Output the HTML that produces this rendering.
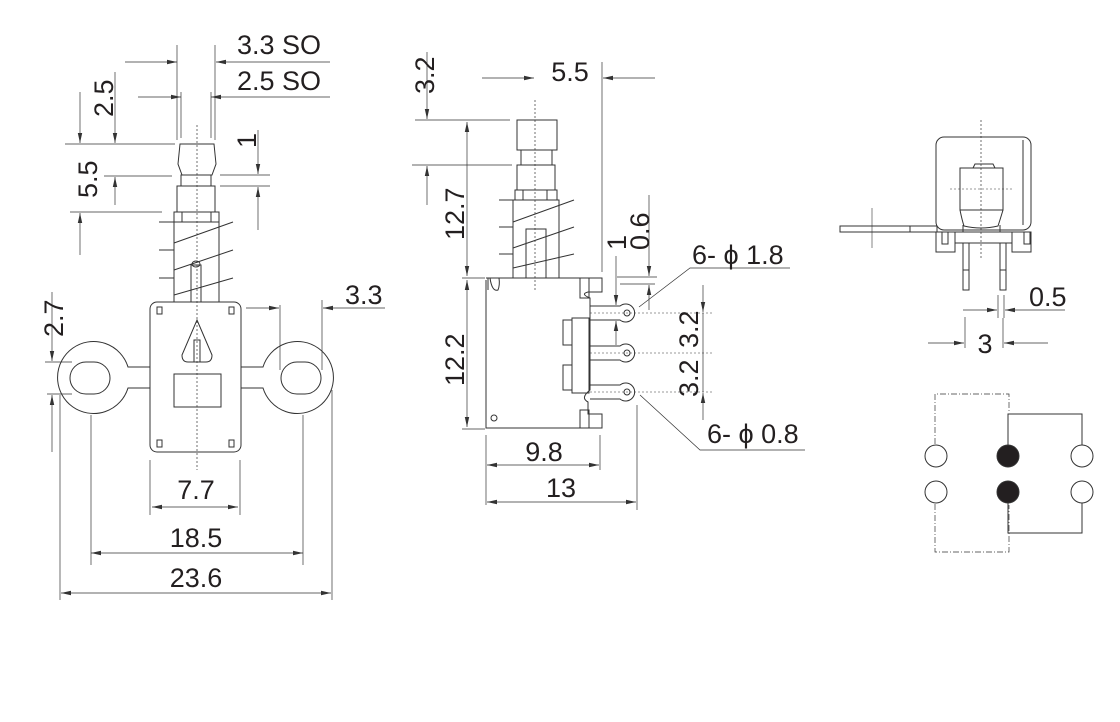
<!DOCTYPE html>
<html><head><meta charset="utf-8"><style>
html,body{margin:0;padding:0;background:#fff;}
svg{display:block}
text{font-family:"Liberation Sans",Arial,sans-serif;font-size:27px;fill:#231f20}
</style></head><body>
<svg width="1120" height="722" viewBox="0 0 1120 722" xmlns="http://www.w3.org/2000/svg">
<defs>
<marker id="a" viewBox="0 0 10 6" refX="10" refY="3" markerWidth="10" markerHeight="6" markerUnits="userSpaceOnUse" orient="auto-start-reverse"><path d="M0,0.8 L10,3 L0,5.2z" fill="#333"/></marker>
</defs>
<g stroke="#333" stroke-width="1" fill="none">
<!-- LEFT VIEW -->
<line x1="197" y1="125" x2="197" y2="470" stroke-dasharray="2,2" stroke-width="0.7"/>
<path d="M180,144 L214,144 L216,164 L212,175 L182,175 L178,164 Z"/>
<rect x="181" y="175" width="30" height="11"/>
<rect x="177" y="186" width="38" height="26"/>
<rect x="174" y="212" width="45" height="90"/>
<line x1="182" y1="212" x2="182" y2="222"/><line x1="211" y1="212" x2="211" y2="222"/><line x1="174" y1="222" x2="219" y2="222"/>
<path d="M159,222 L174,222 M174,243 L233,222 M159,250 L174,250 M174,270 L233,250 M159,278 L174,278 M174,295 L233,278"/>
<rect x="191" y="265" width="10" height="37"/><ellipse cx="196" cy="264" rx="4" ry="3"/>
<rect x="150" y="302" width="91" height="150" rx="7"/>
<path d="M157,307 h5 v7 h-5z M229,307 h5 v7 h-5z M157,440 h5 v7 h-5z M229,440 h5 v7 h-5z"/>
<path d="M197,320 L212,355 Q212,362 206,362 L188,362 Q182,362 182,355 Z"/>
<rect x="194" y="340" width="6" height="22"/>
<rect x="174" y="374" width="47" height="33"/>
<path d="M150,367 L128,367 A36,36 0 1 0 128,388 L150,388"/>
<rect x="70" y="362" width="40" height="32" rx="16"/>
<path d="M241,367 L263,367 A36,36 0 1 1 263,388 L241,388"/>
<rect x="281" y="362" width="40" height="32" rx="16"/>
<!-- dims left -->
<line x1="177" y1="45" x2="177" y2="140" stroke-width="0.7"/><line x1="215" y1="45" x2="215" y2="140" stroke-width="0.7"/>
<line x1="125" y1="62" x2="177" y2="62" marker-end="url(#a)" stroke-width="0.7"/>
<line x1="330" y1="62" x2="216" y2="62" marker-end="url(#a)" stroke-width="0.7"/>
<line x1="181" y1="92" x2="181" y2="138" stroke-width="0.7"/><line x1="211" y1="92" x2="211" y2="138" stroke-width="0.7"/>
<line x1="138" y1="97" x2="181" y2="97" marker-end="url(#a)" stroke-width="0.7"/>
<line x1="330" y1="97" x2="211" y2="97" marker-end="url(#a)" stroke-width="0.7"/>
<line x1="65" y1="144" x2="175" y2="144" stroke-width="0.7"/>
<line x1="80" y1="92" x2="80" y2="143" marker-end="url(#a)" stroke-width="0.7"/>
<line x1="115" y1="72" x2="115" y2="143" marker-end="url(#a)" stroke-width="0.7"/>
<line x1="104" y1="176" x2="172" y2="176" stroke-width="0.7"/>
<line x1="70" y1="212" x2="162" y2="212" stroke-width="0.7"/>
<line x1="115" y1="205" x2="115" y2="177" marker-end="url(#a)" stroke-width="0.7"/>
<line x1="80" y1="255" x2="80" y2="213" marker-end="url(#a)" stroke-width="0.7"/>
<line x1="220" y1="175" x2="270" y2="175" stroke-width="0.7"/><line x1="220" y1="186" x2="270" y2="186" stroke-width="0.7"/>
<line x1="258" y1="130" x2="258" y2="174" marker-end="url(#a)" stroke-width="0.7"/>
<line x1="258" y1="230" x2="258" y2="187" marker-end="url(#a)" stroke-width="0.7"/>
<line x1="52" y1="292" x2="52" y2="361" marker-end="url(#a)" stroke-width="0.7"/>
<line x1="45" y1="362" x2="72" y2="362" stroke-width="0.7"/><line x1="47" y1="394" x2="72" y2="394" stroke-width="0.7"/>
<line x1="52" y1="452" x2="52" y2="395" marker-end="url(#a)" stroke-width="0.7"/>
<line x1="280" y1="305" x2="280" y2="370" stroke-width="0.7"/><line x1="322" y1="300" x2="322" y2="370" stroke-width="0.7"/>
<line x1="246" y1="308" x2="279" y2="308" marker-end="url(#a)" stroke-width="0.7"/>
<line x1="385" y1="308" x2="323" y2="308" marker-end="url(#a)" stroke-width="0.7"/>
<line x1="150" y1="460" x2="150" y2="515" stroke-width="0.7"/><line x1="240" y1="460" x2="240" y2="515" stroke-width="0.7"/>
<line x1="152" y1="507" x2="238" y2="507" marker-start="url(#a)" marker-end="url(#a)" stroke-width="0.7"/>
<line x1="91" y1="415" x2="91" y2="565" stroke-width="0.7"/><line x1="303" y1="415" x2="303" y2="565" stroke-width="0.7"/>
<line x1="91" y1="553" x2="303" y2="553" marker-start="url(#a)" marker-end="url(#a)" stroke-width="0.7"/>
<line x1="60" y1="395" x2="60" y2="600" stroke-width="0.7"/><line x1="332" y1="390" x2="332" y2="600" stroke-width="0.7"/>
<line x1="61" y1="593" x2="331" y2="593" marker-start="url(#a)" marker-end="url(#a)" stroke-width="0.7"/>

<!-- MIDDLE VIEW -->
<line x1="535" y1="100" x2="535" y2="290" stroke-dasharray="2,2" stroke-width="0.7"/>
<rect x="517" y="120" width="40" height="30"/>
<rect x="521" y="150" width="31" height="15"/>
<rect x="517" y="165" width="38" height="25"/>
<rect x="515" y="190" width="42" height="10"/><line x1="523" y1="190" x2="523" y2="200"/><line x1="547" y1="190" x2="547" y2="200"/>
<rect x="513" y="200" width="46" height="78"/>
<rect x="526" y="229" width="20" height="49"/>
<path d="M499,200 L513,200 M513,222 L574,200 M499,227 L513,227 M513,248 L574,227 M499,254 L513,254 M513,268 L574,254"/>
<path d="M486,280 L486,428 L602,428 L602,414 L588,414 L588,402 Q580,398 590,390 L590,298 Q580,294 588,292 L588,292 L602,292 L602,278 L486,278"/>
<path d="M488,278 v12 M490,278 Q492,292 498,290 Q500,285 499,278"/>
<circle cx="494" cy="418" r="3"/>
<rect x="580" y="278" width="9" height="20"/><rect x="580" y="410" width="9" height="18"/>
<rect x="572" y="318" width="17" height="75"/>
<rect x="563" y="320" width="9" height="25"/><rect x="563" y="365" width="9" height="25"/>
<g>
<path d="M590,306 L620,306 A9,9 0 1 1 620,320 L590,320"/><circle cx="627" cy="313" r="3"/>
<path d="M590,346 L620,346 A9,9 0 1 1 620,360 L590,360"/><circle cx="627" cy="353" r="3"/>
<path d="M590,385 L620,385 A9,9 0 1 1 620,399 L590,399"/><circle cx="627" cy="392" r="3"/>
</g>
<g stroke-dasharray="2,2" stroke-width="0.6"><line x1="590" y1="313" x2="712" y2="313"/><line x1="590" y1="353" x2="712" y2="353"/><line x1="590" y1="392" x2="712" y2="392"/></g>
<!-- dims middle -->
<line x1="427" y1="52" x2="427" y2="119" marker-end="url(#a)" stroke-width="0.7"/>
<line x1="415" y1="120" x2="510" y2="120" stroke-width="0.7"/><line x1="412" y1="165" x2="512" y2="165" stroke-width="0.7"/>
<line x1="427" y1="205" x2="427" y2="166" marker-end="url(#a)" stroke-width="0.7"/>
<line x1="467" y1="122" x2="467" y2="276" marker-start="url(#a)" marker-end="url(#a)" stroke-width="0.7"/>
<line x1="462" y1="278" x2="485" y2="278" stroke-width="0.7"/>
<line x1="467" y1="280" x2="467" y2="427" marker-start="url(#a)" marker-end="url(#a)" stroke-width="0.7"/>
<line x1="462" y1="429" x2="485" y2="429" stroke-width="0.7"/>
<line x1="482" y1="78" x2="534" y2="78" marker-end="url(#a)" stroke-width="0.7"/>
<line x1="602" y1="62" x2="602" y2="272" stroke-width="0.7"/>
<line x1="655" y1="78" x2="603" y2="78" marker-end="url(#a)" stroke-width="0.7"/>
<line x1="649" y1="195" x2="649" y2="276" marker-end="url(#a)" stroke-width="0.7"/>
<line x1="617" y1="277" x2="657" y2="277" stroke-width="0.7"/><line x1="620" y1="284" x2="655" y2="284" stroke-width="0.7"/>
<line x1="649" y1="310" x2="649" y2="285" marker-end="url(#a)" stroke-width="0.7"/>
<line x1="616" y1="256" x2="616" y2="305" marker-end="url(#a)" stroke-width="0.7"/>
<line x1="616" y1="345" x2="616" y2="321" marker-end="url(#a)" stroke-width="0.7"/>
<path d="M639,307 L690,268 L790,268" stroke-width="0.7"/>
<path d="M640,395 L700,450 L805,450" stroke-width="0.7"/>
<line x1="703" y1="285" x2="703" y2="312" marker-end="url(#a)" stroke-width="0.7"/>
<line x1="703" y1="313" x2="703" y2="392" stroke-width="0.7"/>
<line x1="703" y1="420" x2="703" y2="393" marker-end="url(#a)" stroke-width="0.7"/>
<line x1="486" y1="435" x2="486" y2="505" stroke-width="0.7"/><line x1="600" y1="435" x2="600" y2="470" stroke-width="0.7"/>
<line x1="487" y1="465" x2="599" y2="465" marker-start="url(#a)" marker-end="url(#a)" stroke-width="0.7"/>
<line x1="637" y1="405" x2="637" y2="510" stroke-width="0.7"/>
<line x1="487" y1="502" x2="636" y2="502" marker-start="url(#a)" marker-end="url(#a)" stroke-width="0.7"/>

<!-- RIGHT VIEW -->
<line x1="981" y1="120" x2="981" y2="260" stroke-dasharray="2,2" stroke-width="0.7"/>
<rect x="936" y="137" width="95" height="93" rx="8"/>
<line x1="1023" y1="140" x2="1023" y2="225"/>
<path d="M973,168 L975,164 L993,164 L995,168"/>
<rect x="960" y="168" width="43" height="42"/>
<line x1="950" y1="189" x2="1012" y2="189" stroke-dasharray="2,2" stroke-width="0.6"/>
<path d="M960,210 Q962,220 964,226 Q981,230 998,226 Q1000,220 1003,210"/>
<rect x="840" y="226" width="97" height="6"/><line x1="910" y1="226" x2="910" y2="232"/>
<line x1="872" y1="208" x2="872" y2="248" stroke-width="0.6"/>
<rect x="955" y="232" width="57" height="11"/>
<rect x="936" y="232" width="19" height="20"/><rect x="1012" y="232" width="19" height="20"/>
<rect x="942" y="232" width="6" height="12"/><rect x="1024" y="232" width="6" height="12"/>
<line x1="963" y1="225" x2="963" y2="232"/><line x1="1000" y1="225" x2="1000" y2="232"/>
<rect x="963" y="243" width="6" height="47"/><rect x="1000" y="243" width="6" height="47"/>
<line x1="963" y1="270" x2="969" y2="270"/><line x1="1000" y1="270" x2="1006" y2="270"/>
<line x1="998" y1="295" x2="998" y2="318" stroke-width="0.7"/><line x1="1004" y1="295" x2="1004" y2="318" stroke-width="0.7"/>
<line x1="963" y1="310" x2="997" y2="310" marker-end="url(#a)" stroke-width="0.7"/>
<line x1="1065" y1="310" x2="1005" y2="310" marker-end="url(#a)" stroke-width="0.7"/>
<line x1="965" y1="317" x2="965" y2="348" stroke-width="0.7"/><line x1="1003" y1="318" x2="1003" y2="348" stroke-width="0.7"/>
<line x1="928" y1="343" x2="964" y2="343" marker-end="url(#a)" stroke-width="0.7"/>
<line x1="1048" y1="343" x2="1004" y2="343" marker-end="url(#a)" stroke-width="0.7"/>

<!-- SCHEMATIC -->
<circle cx="936" cy="456" r="11"/><circle cx="936" cy="492" r="11"/>
<circle cx="1008" cy="456" r="11" fill="#231f20"/><circle cx="1008" cy="492" r="11" fill="#231f20"/>
<circle cx="1082" cy="456" r="11"/><circle cx="1082" cy="492" r="11"/>
<path d="M1008,445 L1008,414 L1082,414 L1082,445 M1008,503 L1008,533 L1082,533 L1082,503"/>
<g stroke-dasharray="6,2,1,2" stroke-width="0.7">
<path d="M935,444 L935,394 L1009,394 L1009,412"/>
<path d="M935,504 L935,552 L1009,552 L1009,505"/>
</g>
</g>
<!-- TEXT -->
<text x="237" y="54">3.3 SO</text>
<text x="237" y="90">2.5 SO</text>
<text transform="translate(113,117) rotate(-90)">2.5</text>
<text transform="translate(97,198) rotate(-90)">5.5</text>
<text transform="translate(256,148) rotate(-90)">1</text>
<text transform="translate(63,337) rotate(-90)">2.7</text>
<text x="345" y="304">3.3</text>
<text x="196" y="499" text-anchor="middle">7.7</text>
<text x="196" y="547" text-anchor="middle">18.5</text>
<text x="196" y="587" text-anchor="middle">23.6</text>
<text transform="translate(434,94) rotate(-90)">3.2</text>
<text transform="translate(464,240) rotate(-90)">12.7</text>
<text transform="translate(464,386) rotate(-90)">12.2</text>
<text x="570" y="81" text-anchor="middle">5.5</text>
<text transform="translate(649,250) rotate(-90)">0.6</text>
<text transform="translate(626,250) rotate(-90)">1</text>
<text x="692" y="264">6- ϕ 1.8</text>
<text transform="translate(698,348) rotate(-90)">3.2</text>
<text transform="translate(698,397) rotate(-90)">3.2</text>
<text x="707" y="443">6- ϕ 0.8</text>
<text x="544" y="461" text-anchor="middle">9.8</text>
<text x="561" y="497" text-anchor="middle">13</text>
<text x="1029" y="306">0.5</text>
<text x="985" y="353" text-anchor="middle">3</text>
</svg>
</body></html>
